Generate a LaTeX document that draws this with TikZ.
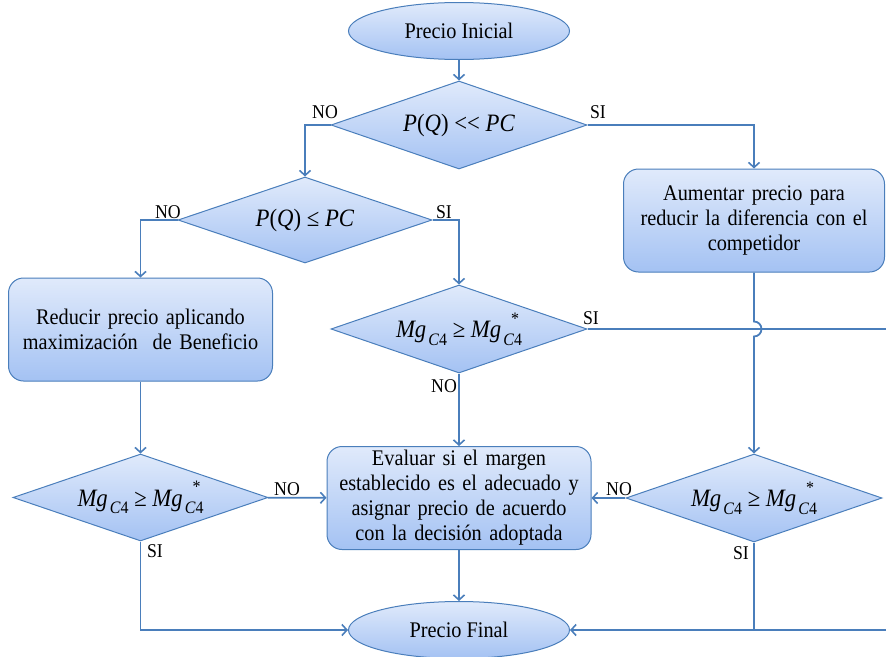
\documentclass[tikz,border=0pt]{standalone}
\usepackage{fontspec}
\setmainfont{Liberation Serif}[FakeStretch=0.91]
\usetikzlibrary{shapes.geometric,arrows.meta,calc}
\definecolor{edge}{HTML}{4A7EBB}
\definecolor{shadetop}{HTML}{E0EAFB}
\definecolor{shadebot}{HTML}{A4C2F3}

% text sizes
\newcommand{\boxfont}{\fontsize{22.3}{25}\selectfont}
\newcommand{\condfont}{\fontsize{25}{28}\selectfont}
\newcommand{\labfont}{\fontsize{19.5}{20}\selectfont}
\newcommand{\subfont}{\fontsize{17.5}{17.5}\selectfont}
% margin condition  Mg_{C4} >= Mg*_{C4}
\newcommand{\mgplain}{\textit{Mg}\hspace{0.08em}\raisebox{-0.3em}{\subfont\textit{C}4}}
\newcommand{\mgopt}{\textit{Mg}\hspace{0.08em}\rlap{\raisebox{0.55em}{\subfont\hspace{0.45em}*}}\raisebox{-0.3em}{\subfont\textit{C}4}}
\newcommand{\mgcond}{\mgplain\ ≥ \mgopt}

\begin{document}
\begin{tikzpicture}[x=1pt,y=-1pt,
  fillshade/.style={draw=edge,line width=1pt,top color=shadetop,bottom color=shadebot},
  terminal/.style={fillshade,ellipse,minimum width=221pt,minimum height=57pt,inner sep=0pt,font=\boxfont},
  decision/.style={fillshade,diamond,shape aspect=2.9,minimum width=256pt,minimum height=88pt,inner sep=0pt,font=\condfont},
  process/.style={fillshade,rectangle,rounded corners=15pt,minimum width=264pt,minimum height=103pt,
    text width=250pt,align=center,inner sep=0pt,font=\boxfont},
  conn/.style={draw=edge,line width=1.8pt},
  arr/.style={conn,-{Straight Barb[length=5pt,width=11pt,line width=1.6pt]}},
  lab/.style={font=\labfont,inner sep=0pt}]
\useasboundingbox (0,0) rectangle (886,656);

% nodes
\node[terminal] (pi) at (459,31) {Precio Inicial};
\node[decision] (d1) at (459,125) {\textit{P}(\textit{Q}) \mbox{<}\mbox{<} \textit{PC}};
\node[decision,minimum width=254pt,minimum height=86pt] (d2) at (305,220) {\textit{P}(\textit{Q}) ≤ \textit{PC}};
\node[process] (red) at (140.5,329.5) {Reducir precio aplicando\\maximización\ \ de Beneficio};
\node[process,minimum width=261pt] (aum) at (754,220.5) {Aumentar precio para\\reducir la diferencia con el\\competidor};
\node[decision] (d3) at (459,329) {\mgcond};
\node[decision,minimum width=255pt,minimum height=87pt] (dl) at (140.5,497.5) {\mgcond};
\node[process] (ev) at (459,498) {Evaluar si el margen\\establecido es el adecuado y\\asignar precio de acuerdo\\con la decisión adoptada};
\node[decision] (dr) at (754,498) {\mgcond};
\node[terminal] (pf) at (459,630) {Precio Final};

% free ends at the right border
\coordinate (outA) at (886,329);
\coordinate (outB) at (886,630);
\coordinate (hopT) at (754,321.5);

% connectors
\draw[arr] (pi) -- (d1);
\draw[arr] (d1.west) -| (d2.north);
\draw[arr] (d1.east) -| (aum.north);
\draw[arr] (d2.west) -| (red.north);
\draw[arr] (d2.east) -| (d3.north);
\draw[arr] (red) -- (dl);
\draw[arr] (d3) -- (ev);
\draw[conn] (d3.east) -- (outA);
\draw[arr] (aum.south) -- (hopT) arc[start angle=-90,end angle=90,radius=7.5] -- (dr.north);
\draw[arr] (dl) -- (ev);
\draw[arr] (dr) -- (ev);
\draw[arr] (ev) -- (pf);
\draw[arr] (dl.south) |- (pf.west);
\draw[conn] (dr.south) -- (dr.south |- pf.east);
\draw[arr] (outB) -- (pf.east);

% branch labels
\node[lab] at (325,112) {NO};
\node[lab] at (598,112) {SI};
\node[lab] at (168,212) {NO};
\node[lab] at (444,212) {SI};
\node[lab] at (591,318) {SI};
\node[lab] at (444,386) {NO};
\node[lab] at (287,489) {NO};
\node[lab] at (155,551) {SI};
\node[lab] at (619,489) {NO};
\node[lab] at (741,553) {SI};
\end{tikzpicture}
\end{document}
